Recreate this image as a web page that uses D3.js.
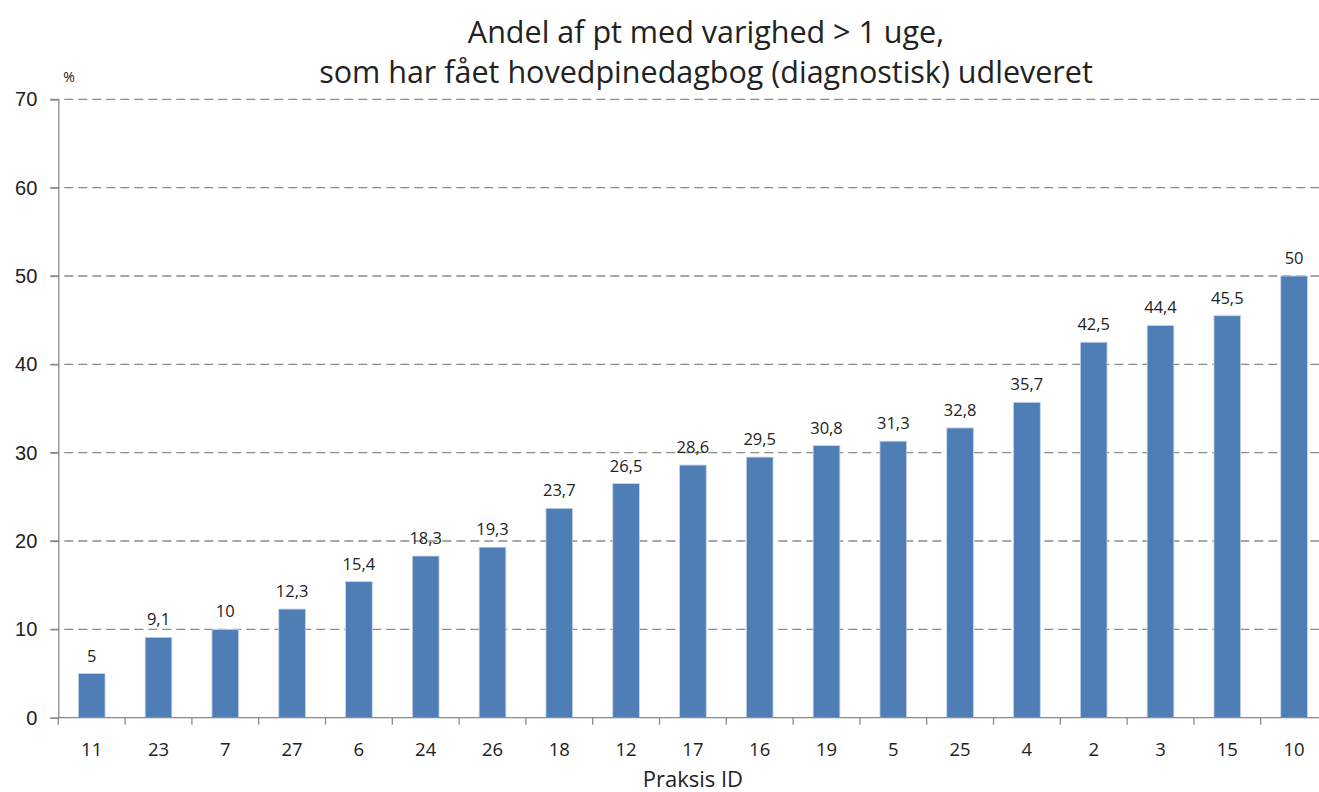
<!DOCTYPE html>
<html>
<head>
<meta charset="utf-8">
<script src="https://cdn.jsdelivr.net/npm/d3@7"></script>
<style>
  body { margin: 0; background: #fff; }
  svg { display: block; font-family: "Open Sans", "Noto Sans", sans-serif; }
</style>
</head>
<body>
<div id="chart"></div>
<script>
const praksis = ["11", "23", "7", "27", "6", "24", "26", "18", "12", "17", "16", "19", "5", "25", "4", "2", "3", "15", "10"];
const andel = [5, 9.1, 10, 12.3, 15.4, 18.3, 19.3, 23.7, 26.5, 28.6, 29.5, 30.8, 31.3, 32.8, 35.7, 42.5, 44.4, 45.5, 50];
const yTicks = [0, 10, 20, 30, 40, 50, 60, 70];

const W = 1319, H = 792;
const plotLeft = 58.3, plotRight = 1327.5, plotTop = 99.3, plotBottom = 717.7;

const svg = d3.select("#chart").append("svg")
  .attr("width", W)
  .attr("height", H);

const x = d3.scaleBand()
  .domain(praksis)
  .range([plotLeft, plotRight])
  .paddingInner(0.6)
  .paddingOuter(0.3);

const y = d3.scaleLinear()
  .domain([0, 70])
  .range([plotBottom, plotTop]);

// gridlines
svg.append("g")
  .selectAll("line")
  .data(yTicks.filter(d => d > 0))
  .join("line")
  .attr("x1", plotLeft - 8)
  .attr("x2", plotRight)
  .attr("y1", d => y(d))
  .attr("y2", d => y(d))
  .attr("stroke", "#8c8c8c")
  .attr("stroke-width", 1.3)
  .attr("stroke-dasharray", "9,5");

// y axis
const yAxis = svg.append("g")
  .attr("transform", `translate(${plotLeft},0)`)
  .call(d3.axisLeft(y).tickValues(yTicks).tickSize(8).tickPadding(13));
yAxis.select(".domain").attr("stroke", "#8c8c8c").attr("stroke-width", 1.3);
yAxis.selectAll(".tick line").attr("stroke", "#8c8c8c").attr("stroke-width", 1.3);
yAxis.selectAll(".tick text")
  .attr("font-size", 20)
  .attr("fill", "#222");

// bars
svg.append("g")
  .selectAll("rect")
  .data(andel)
  .join("rect")
  .attr("x", (d, i) => x(praksis[i]))
  .attr("y", d => y(d))
  .attr("width", x.bandwidth())
  .attr("height", d => y(0) - y(d))
  .attr("fill", "#4f7eb6")
  .attr("stroke", "#c9d6ea")
  .attr("stroke-width", 0.8);

// value labels
const fmt = v => String(v).replace(".", ",");
svg.append("g")
  .selectAll("text")
  .data(andel)
  .join("text")
  .attr("x", (d, i) => x(praksis[i]) + x.bandwidth() / 2)
  .attr("y", d => y(d) - 12)
  .attr("text-anchor", "middle")
  .attr("font-size", 16.5)
  .attr("fill", "#222")
  .text(fmt);

// x axis
const step = x.step();
const xAxis = svg.append("g")
  .attr("transform", `translate(0,${plotBottom})`);
xAxis.append("line")
  .attr("x1", plotLeft)
  .attr("x2", plotRight)
  .attr("stroke", "#8c8c8c")
  .attr("stroke-width", 1.3);
xAxis.selectAll(".bt")
  .data(d3.range(praksis.length + 1))
  .join("line")
  .attr("class", "bt")
  .attr("x1", i => plotLeft + i * step)
  .attr("x2", i => plotLeft + i * step)
  .attr("y1", 0)
  .attr("y2", 7)
  .attr("stroke", "#8c8c8c")
  .attr("stroke-width", 1.3);
xAxis.selectAll(".lbl")
  .data(praksis)
  .join("text")
  .attr("class", "lbl")
  .attr("x", d => x(d) + x.bandwidth() / 2)
  .attr("y", 38)
  .attr("text-anchor", "middle")
  .attr("font-size", 18.5)
  .attr("fill", "#222")
  .text(d => d);

// axis titles
svg.append("text")
  .attr("x", (plotLeft + plotRight) / 2)
  .attr("y", 787)
  .attr("text-anchor", "middle")
  .attr("font-size", 22)
  .attr("fill", "#222")
  .text("Praksis ID");

svg.append("text")
  .attr("x", 69)
  .attr("y", 82)
  .attr("text-anchor", "middle")
  .attr("font-size", 14)
  .attr("fill", "#222")
  .text("%");

// title
const title = svg.append("text")
  .attr("text-anchor", "middle")
  .attr("font-size", 30.5)
  .attr("fill", "#222");
title.append("tspan")
  .attr("x", 706)
  .attr("y", 43)
  .text("Andel af pt med varighed > 1 uge,");
title.append("tspan")
  .attr("x", 706)
  .attr("y", 83)
  .text("som har fået hovedpinedagbog (diagnostisk) udleveret");
</script>
</body>
</html>
